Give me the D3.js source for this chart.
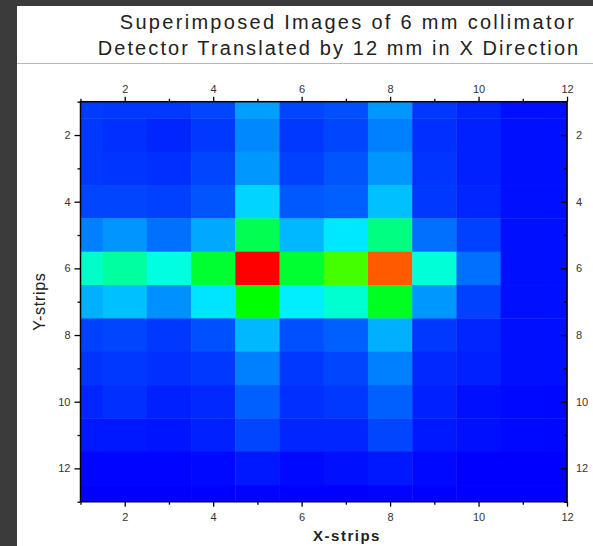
<!DOCTYPE html>
<html><head><meta charset="utf-8">
<script src="https://cdn.jsdelivr.net/npm/d3@7"></script>
<style>html,body{margin:0;padding:0;background:#3b3b3b;}svg{display:block;}text{font-family:"Liberation Sans",Arial,sans-serif;}</style>
</head><body><svg id="c" width="593" height="546"></svg>
<script>
const xStrips = [1,2,3,4,5,6,7,8,9,10,11,12];
const yStrips = [1,2,3,4,5,6,7,8,9,10,11,12,13];
// intensity per row (y-strip 1..13), columns x-strip 1..12
const row1  = [8.2, 7.7, 7.7, 9.5, 22, 9.5, 11, 20.9, 7.7, 5.1, 2.2, 2.0];
const row2  = [7.7, 6.6, 5.1, 7.7, 18.7, 7.7, 9.5, 17.6, 6.6, 4.4, 2.2, 2.0];
const row3  = [7.7, 7.3, 6.6, 9.5, 20.9, 8.8, 11.7, 20.5, 7.3, 4.4, 2.2, 2.0];
const row4  = [9.5, 9.5, 8.8, 11.7, 29.2, 12.1, 13.2, 26.4, 7.7, 5.1, 2.2, 2.0];
const row5  = [17.6, 20.5, 15.4, 23, 48.7, 25.3, 31.8, 45, 15.4, 8.8, 2.2, 2.0];
const row6  = [39.3, 42.5, 37.4, 51.2, 100, 51.2, 60.3, 91.2, 38.1, 15.4, 2.2, 2.0];
const row7  = [24.2, 26.4, 19.8, 31.4, 55, 32.7, 38.7, 52.5, 20.9, 8.8, 2.2, 2.0];
const row8  = [8.8, 9.5, 7.7, 11, 25.3, 11, 13.2, 24.2, 7.7, 5.1, 2.2, 2.0];
const row9  = [7.3, 7.7, 6.6, 7.7, 17.6, 7.7, 9.5, 17.6, 5.5, 4.4, 2.2, 2.0];
const row10 = [5.1, 6.6, 4.4, 5.5, 13.2, 6.6, 7.7, 13.2, 4.4, 2.2, 1.1, 1.0];
const row11 = [3.3, 3.3, 2.9, 4.4, 9.5, 5.1, 5.1, 9.5, 3.3, 2.2, 1.1, 1.0];
const row12 = [0.7, 0.7, 0.7, 1.1, 3.3, 1.1, 2.2, 3.3, 1.1, 0, 0, 0];
const row13 = [0, 0, 0, 0, 0.5, 0, 0, 0.5, 0, 0, 0, 0];
const rows = [row1,row2,row3,row4,row5,row6,row7,row8,row9,row10,row11,row12,row13];
const majorTicks = [2,4,6,8,10,12];
const titleLines = ["Superimposed Images of 6 mm collimator", "Detector Translated by 12 mm in X Direction"];

const svg = d3.select("#c");
// page
svg.append("rect").attr("x",17).attr("y",6).attr("width",576).attr("height",540).attr("fill","#fff");
svg.append("line").attr("x1",17).attr("x2",593).attr("y1",63.5).attr("y2",63.5).attr("stroke","#b8b8b8").attr("stroke-width",1.2);

const x = d3.scaleLinear().domain([1,12]).range([80.5,567]);
const y = d3.scaleLinear().domain([1,13]).range([101.7,501.7]);
const color = d3.scaleLinear().domain([0,35,55,75,100])
  .range(["#0000ff","#00ffff","#00ff00","#ffff00","#ff0000"]).clamp(true);

const cells = [];
rows.forEach((r,j)=>r.forEach((v,i)=>cells.push({xs:xStrips[i], ys:yStrips[j], v})));
const g = svg.append("g");
g.selectAll("rect").data(cells).join("rect")
  .attr("x", d=>x(Math.max(1,d.xs-0.5)))
  .attr("y", d=>y(Math.max(1,d.ys-0.5)))
  .attr("width", d=>x(Math.min(12,d.xs+0.5))-x(Math.max(1,d.xs-0.5))+0.4)
  .attr("height", d=>y(Math.min(13,d.ys+0.5))-y(Math.max(1,d.ys-0.5))+0.4)
  .attr("fill", d=>color(d.v));

// frame
svg.append("rect").attr("x",x(1)).attr("y",y(1)).attr("width",x(12)-x(1)).attr("height",y(13)-y(1))
  .attr("fill","none").attr("stroke","#000").attr("stroke-width",1.5);

const minorX = [1,3,5,7,9,11], minorY=[1,3,5,7,9,11,13];
function styleAxis(sel){
  sel.select(".domain").remove();
  sel.selectAll(".tick line").attr("stroke","#000").attr("stroke-width",1.3);
  sel.selectAll(".tick text").attr("fill","#333").style("font-size","11px").style("font-family","Liberation Sans, Arial, sans-serif");
}
const ax = (axis, tr) => { const s = svg.append("g").attr("transform",tr).call(axis); styleAxis(s); return s; };
ax(d3.axisTop(x).tickValues(majorTicks).tickSize(5).tickPadding(4), `translate(0,${y(1)})`);
ax(d3.axisTop(x).tickValues(minorX).tickSize(3).tickFormat(""), `translate(0,${y(1)})`);
ax(d3.axisBottom(x).tickValues(majorTicks).tickSize(5).tickPadding(7), `translate(0,${y(13)})`);
ax(d3.axisBottom(x).tickValues(minorX).tickSize(3).tickFormat(""), `translate(0,${y(13)})`);
ax(d3.axisLeft(y).tickValues(majorTicks).tickSize(6).tickPadding(4), `translate(${x(1)},0)`);
ax(d3.axisLeft(y).tickValues(minorY).tickSize(3).tickFormat(""), `translate(${x(1)},0)`);
ax(d3.axisRight(y).tickValues(majorTicks).tickSize(-6).tickPadding(9), `translate(${x(12)},0)`);
ax(d3.axisRight(y).tickValues(minorY).tickSize(-3).tickFormat(""), `translate(${x(12)},0)`);

// titles
svg.append("text").attr("x",348).attr("y",29).attr("text-anchor","middle")
  .style("font-size","20px").style("letter-spacing","2.3px").attr("fill","#222").text(titleLines[0]);
svg.append("text").attr("x",339).attr("y",55).attr("text-anchor","middle")
  .style("font-size","20px").style("letter-spacing","2.1px").attr("fill","#222").text(titleLines[1]);
svg.append("text").attr("x",347).attr("y",541).attr("text-anchor","middle")
  .style("font-size","15px").style("font-weight","bold").style("letter-spacing","1.5px").attr("fill","#222").text("X-strips");
svg.append("text").attr("transform",`translate(45,${(y(1)+y(13))/2}) rotate(-90)`).attr("text-anchor","middle")
  .style("font-size","16px").style("letter-spacing","0.7px").attr("fill","#222").text("Y-strips");
</script></body></html>
